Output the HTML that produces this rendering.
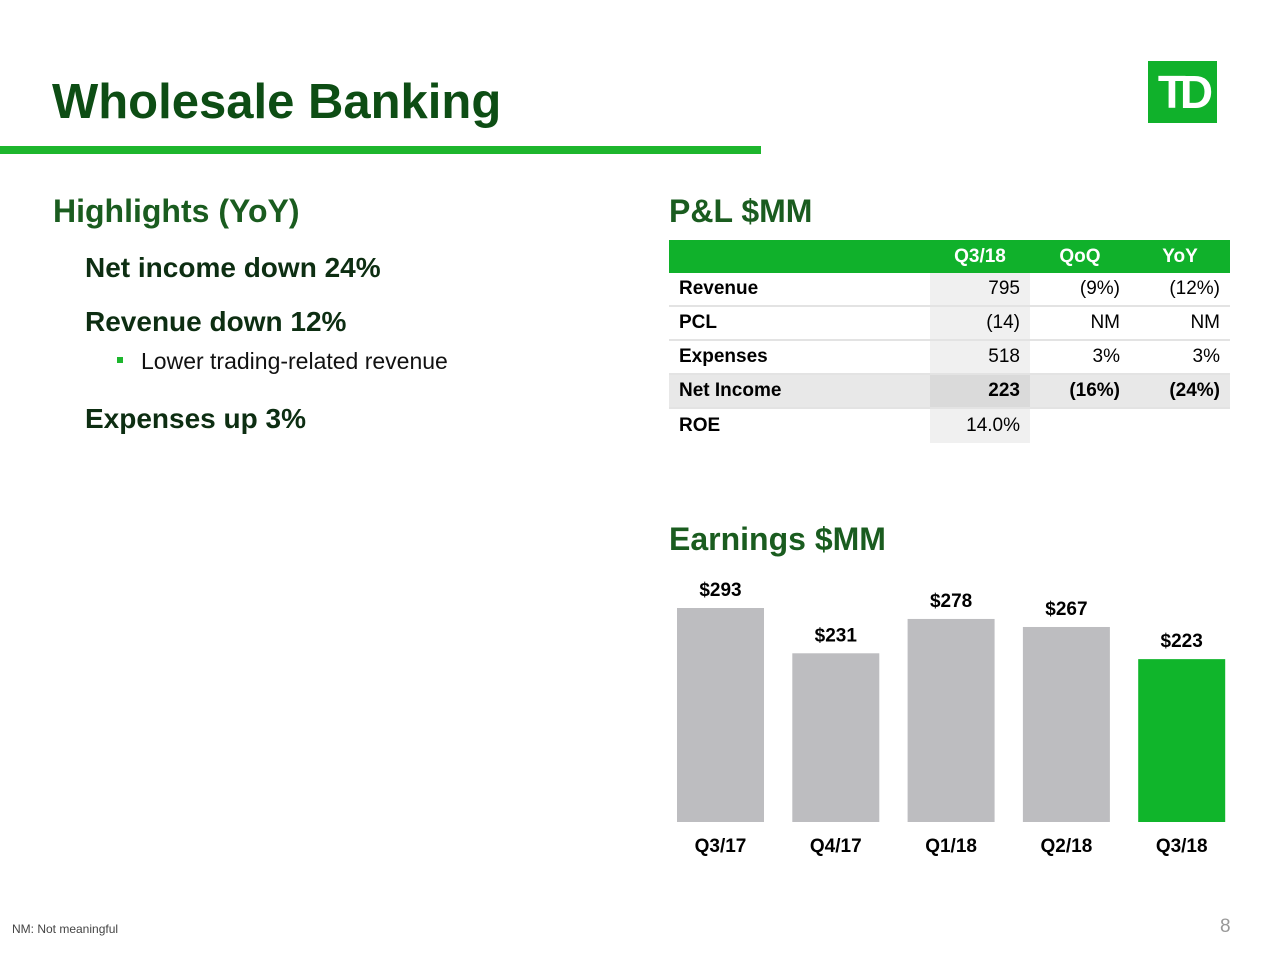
<!DOCTYPE html>
<html><head><meta charset="utf-8"><style>
body{margin:0;width:1280px;height:960px;background:#fff;font-family:"Liberation Sans",Arial,sans-serif;position:relative;overflow:hidden}
.a{position:absolute;white-space:nowrap}
.g{color:#1a5c1f;font-weight:bold}
td{padding:0 10px;height:32px;font-size:19px;border-bottom:2px solid #e3e3e3}
</style></head><body>
<div class="a g" style="left:52px;top:74px;font-size:49px;color:#0d4d14">Wholesale Banking</div>
<div class="a" style="left:0;top:146px;width:761px;height:8px;background:#1db62d"></div>
<div class="a" style="left:1148px;top:61px;width:69px;height:62px;background:#10b12b;color:#fff;font-weight:bold;font-size:46px;text-align:center;line-height:62px;letter-spacing:-6px">TD</div>
<div class="a g" style="left:53px;top:193px;font-size:32px">Highlights (YoY)</div>
<div class="a" style="left:85px;top:252px;font-size:28px;font-weight:bold;color:#0d2e12">Net income down 24%</div>
<div class="a" style="left:85px;top:306px;font-size:28px;font-weight:bold;color:#0d2e12">Revenue down 12%</div>
<div class="a" style="left:117px;top:357px;width:6px;height:6px;background:#1db62d"></div>
<div class="a" style="left:141px;top:348px;font-size:23px;color:#111">Lower trading-related revenue</div>
<div class="a" style="left:85px;top:403px;font-size:28px;font-weight:bold;color:#0d2e12">Expenses up 3%</div>
<div class="a g" style="left:669px;top:193px;font-size:32px">P&amp;L $MM</div>
<table class="a" style="left:669px;top:240px;width:561px;border-collapse:collapse;table-layout:fixed">
<colgroup><col style="width:261px"><col style="width:100px"><col style="width:100px"><col style="width:100px"></colgroup>
<tr style="background:#10b12b;color:#fff;font-weight:bold"><td style="height:33px;border:0"></td><td style="text-align:center;border:0">Q3/18</td><td style="text-align:center;border:0">QoQ</td><td style="text-align:center;border:0">YoY</td></tr>
<tr><td><b>Revenue</b></td><td style="text-align:right;background:#f0f0f0">795</td><td style="text-align:right">(9%)</td><td style="text-align:right">(12%)</td></tr>
<tr><td><b>PCL</b></td><td style="text-align:right;background:#f0f0f0">(14)</td><td style="text-align:right">NM</td><td style="text-align:right">NM</td></tr>
<tr><td><b>Expenses</b></td><td style="text-align:right;background:#f0f0f0">518</td><td style="text-align:right">3%</td><td style="text-align:right">3%</td></tr>
<tr style="background:#e8e8e8;font-weight:bold"><td>Net Income</td><td style="text-align:right;background:#dadada">223</td><td style="text-align:right">(16%)</td><td style="text-align:right">(24%)</td></tr>
<tr><td style="border:0;height:34px"><b>ROE</b></td><td style="text-align:right;background:#f0f0f0;border:0">14.0%</td><td style="border:0"></td><td style="border:0"></td></tr>
</table>
<div class="a g" style="left:669px;top:521px;font-size:32px">Earnings $MM</div>
<svg class="a" style="left:0;top:0" width="1280" height="960" id="chart"></svg>
<div class="a" style="left:12px;top:922px;font-size:12px;color:#444">NM: Not meaningful</div>
<div class="a" style="left:1220px;top:916px;font-size:19px;color:#999">8</div>
<script>
const categories=["Q3/17","Q4/17","Q1/18","Q2/18","Q3/18"];
const earnings=[293,231,278,267,223];
const highlight=[false,false,false,false,true];
const svg=document.getElementById('chart');const NS='http://www.w3.org/2000/svg';
const base=822,scale=214/293,x0=677,step=115.3,bw=87;
const y=v=>base-v*scale, x=i=>x0+i*step;
categories.forEach((c,i)=>{
 const r=document.createElementNS(NS,'rect');
 r.setAttribute('x',x(i));r.setAttribute('y',y(earnings[i]));r.setAttribute('width',bw);r.setAttribute('height',base-y(earnings[i]));
 r.setAttribute('fill',highlight[i]?'#10b52b':'#bdbdc0');
 
 
 svg.appendChild(r);
 const t=document.createElementNS(NS,'text');
 t.setAttribute('x',x(i)+bw/2);t.setAttribute('y',y(earnings[i])-12);t.setAttribute('text-anchor','middle');
 t.setAttribute('font-family','Liberation Sans, sans-serif');t.setAttribute('font-size','19');t.setAttribute('font-weight','bold');
 t.textContent='$'+earnings[i];
 
 
 svg.appendChild(t);
 const l=document.createElementNS(NS,'text');
 l.setAttribute('x',x(i)+bw/2);l.setAttribute('y',852);l.setAttribute('text-anchor','middle');
 l.setAttribute('font-family','Liberation Sans, sans-serif');l.setAttribute('font-size','19');l.setAttribute('font-weight','bold');
 l.textContent=c;
 
 
 svg.appendChild(l);
});
</script>
</body></html>
